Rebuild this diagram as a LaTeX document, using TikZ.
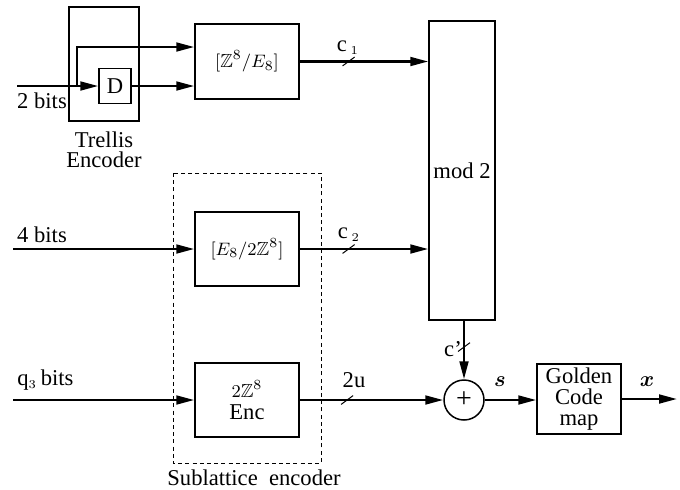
\documentclass[tikz,border=0pt]{standalone}
\usepackage{amsmath,amssymb}
\usepackage{fontspec}
\setmainfont{Liberation Serif}
\usetikzlibrary{arrows.meta,decorations.markings,calc}

\begin{document}
\begin{tikzpicture}[x=0.5pt, y=-0.5pt,
    font=\fontsize{11.3}{10}\selectfont,
    box/.style={draw, line width=0.75pt, inner sep=0pt, align=center},
    mbox/.style={box, font=\fontsize{9.5}{10}\selectfont},
    arr/.style={-{Triangle[length=9pt,width=4.4pt]}, line width=1.2pt},
    bus/.style={postaction={decorate, decoration={markings,
        mark=at position #1 with {\draw[-, line width=0.5pt] (-3pt,-2.2pt) -- (3pt,2.2pt);}}}},
    vbus/.style={postaction={decorate, decoration={markings,
        mark=at position #1 with {\draw[-, line width=0.5pt] (2.2pt,-3pt) -- (-2.2pt,3pt);}}}},
    sub/.style={draw, dashed, dash pattern=on 2pt off 1.6pt, line width=0.4pt},
    lbl/.style={inner sep=0pt}
]
\useasboundingbox (0,0) rectangle (680,489);

% blocks
\node[box, minimum width=35pt, minimum height=57pt] (trellis) at (104,64) {};
\node[box, minimum width=16pt, minimum height=17.5pt] (delay) at (115,86) {D};
\node[mbox, minimum width=52pt, minimum height=37.5pt] (quot1) at (247,61.5) {$[\mathbb{Z}^8/E_8]$};
\node[mbox, minimum width=52pt, minimum height=37pt] (quot2) at (247,249) {$[E_8/2\mathbb{Z}^8]$};
\node[box, minimum width=52pt, minimum height=37pt] (enc) at (247,400)
    {{\fontsize{9.5}{10}\selectfont$2\mathbb{Z}^8$}\\[1pt]Enc};
\node[box, minimum width=33pt, minimum height=149.5pt] (modtwo) at (462,170.5) {mod 2};
\node[box, circle, minimum size=20pt, font=\fontsize{14}{14}\selectfont] (adder) at (464,400) {+};
\node[box, minimum width=42pt, minimum height=35pt, font=\fontsize{11.3}{10.6}\selectfont] (golden) at (579,399) {Golden\\Code\\map};

% sublattice encoder
\draw[sub] (173,173) rectangle (321,463);

% end points
\coordinate (in1) at (17,86);
\coordinate (split) at (77,86);
\coordinate (in2) at (13,249);
\coordinate (in3) at (13,400);
\coordinate (out) at (677,399);

% connectors
\draw[arr] (in1) -- (delay);
\draw[arr] (split) |- ($(quot1.west)+(0,-14.5)$);
\draw[arr] (delay) -- (delay -| quot1.west);
\draw[arr, bus=0.38] (quot1.east) -- (quot1.east -| modtwo.west);
\draw[arr] (in2) -- (quot2);
\draw[arr, bus=0.38] (quot2.east) -- (quot2.east -| modtwo.west);
\draw[arr] (in3) -- (enc);
\draw[arr, bus=0.33] (enc) -- (adder);
\draw[arr, vbus=0.45] (adder |- modtwo.south) -- (adder);
\draw[arr] (adder) -- (adder -| golden.west);
\draw[arr] (golden) -- (out);

% labels
\node[lbl] (l2bits) at (42,101) {2 bits};
\node[lbl, align=center] (ltrellis) at (104,150) {Trellis\\Encoder};
\node[lbl] (l4bits) at (42,235) {4 bits};
\node[lbl, anchor=west] (lq3) at (17,380) {q$_{\scriptscriptstyle 3}$\,bits};
\node[lbl] (lsub) at (254,478) {Sublattice\ \ encoder};
\node[lbl] (lc1) at (348,48) {c\,$_{\scriptscriptstyle 1}$};
\node[lbl] (lc2) at (349,235) {c\,$_{\scriptscriptstyle 2}$};
\node[lbl] (l2u) at (354,380) {2u};
\node[lbl] (lcp) at (453,349) {c'};
\node[lbl] (ls) at (500,382) {$\boldsymbol{s}$};
\node[lbl] (lx) at (647,382) {$\boldsymbol{x}$};
\end{tikzpicture}
\end{document}
